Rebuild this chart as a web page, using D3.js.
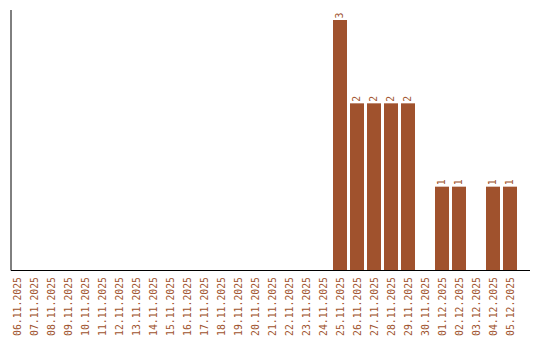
<!DOCTYPE html>
<html>
<head>
<meta charset="utf-8">
<script src="https://cdn.jsdelivr.net/npm/d3@7"></script>
<style>
  body { margin: 0; background: #fff; }
  svg text { font-family: "DejaVu Sans Mono", monospace; font-size: 9.8px; fill: #a0522d; }
</style>
</head>
<body>
<svg width="540" height="340"></svg>
<script>
// dates shown on the x axis
const days = [
  "06.11.2025", "07.11.2025", "08.11.2025", "09.11.2025", "10.11.2025",
  "11.11.2025", "12.11.2025", "13.11.2025", "14.11.2025", "15.11.2025",
  "16.11.2025", "17.11.2025", "18.11.2025", "19.11.2025", "20.11.2025",
  "21.11.2025", "22.11.2025", "23.11.2025", "24.11.2025", "25.11.2025",
  "26.11.2025", "27.11.2025", "28.11.2025", "29.11.2025", "30.11.2025",
  "01.12.2025", "02.12.2025", "03.12.2025", "04.12.2025", "05.12.2025"
];
const counts = [
  0, 0, 0, 0, 0, 0, 0, 0, 0, 0,
  0, 0, 0, 0, 0, 0, 0, 0, 0, 3,
  2, 2, 2, 2, 0, 1, 1, 0, 1, 1
];

const data = days.map((d, i) => ({ day: d, n: counts[i] }));

const svg = d3.select("svg");
const barColor = "#a0522d";

const x = d3.scaleBand()
  .domain(days)
  .range([8.5, 518.5])
  .paddingInner(3 / 17)
  .paddingOuter(1.5 / 17);

const y = d3.scaleLinear()
  .domain([0, 3])
  .range([270, 20]);

// Bars
svg.selectAll(".bar")
  .data(data.filter((d) => d.n > 0))
  .enter()
  .append("rect")
  .attr("class", "bar")
  .attr("x", (d) => x(d.day))
  .attr("y", (d) => y(d.n))
  .attr("width", x.bandwidth())
  .attr("height", (d) => y(0) - y(d.n))
  .attr("fill", barColor);

// Value labels above bars
svg.selectAll(".value")
  .data(data.filter((d) => d.n > 0))
  .enter()
  .append("text")
  .attr("class", "value")
  .attr("transform", (d) => `translate(${x(d.day) + x.bandwidth() / 2},${y(d.n) - 1.5}) rotate(-90)`)
  .attr("dy", "0.35em")
  .attr("text-anchor", "start")
  .text((d) => d.n);

// Axes (plain lines, no ticks)
svg.append("line")
  .attr("x1", 11).attr("x2", 11)
  .attr("y1", 10).attr("y2", 270.5)
  .attr("stroke", "#000");
svg.append("line")
  .attr("x1", 11).attr("x2", 530)
  .attr("y1", 270.5).attr("y2", 270.5)
  .attr("stroke", "#000");

// Day labels
svg.selectAll(".day")
  .data(days)
  .enter()
  .append("text")
  .attr("class", "day")
  .attr("transform", (d) => `translate(${x(d) + x.bandwidth() / 2 + 0.5},277) rotate(-90)`)
  .attr("dy", "0.35em")
  .attr("text-anchor", "end")
  .text((d) => d);
</script>
</body>
</html>
